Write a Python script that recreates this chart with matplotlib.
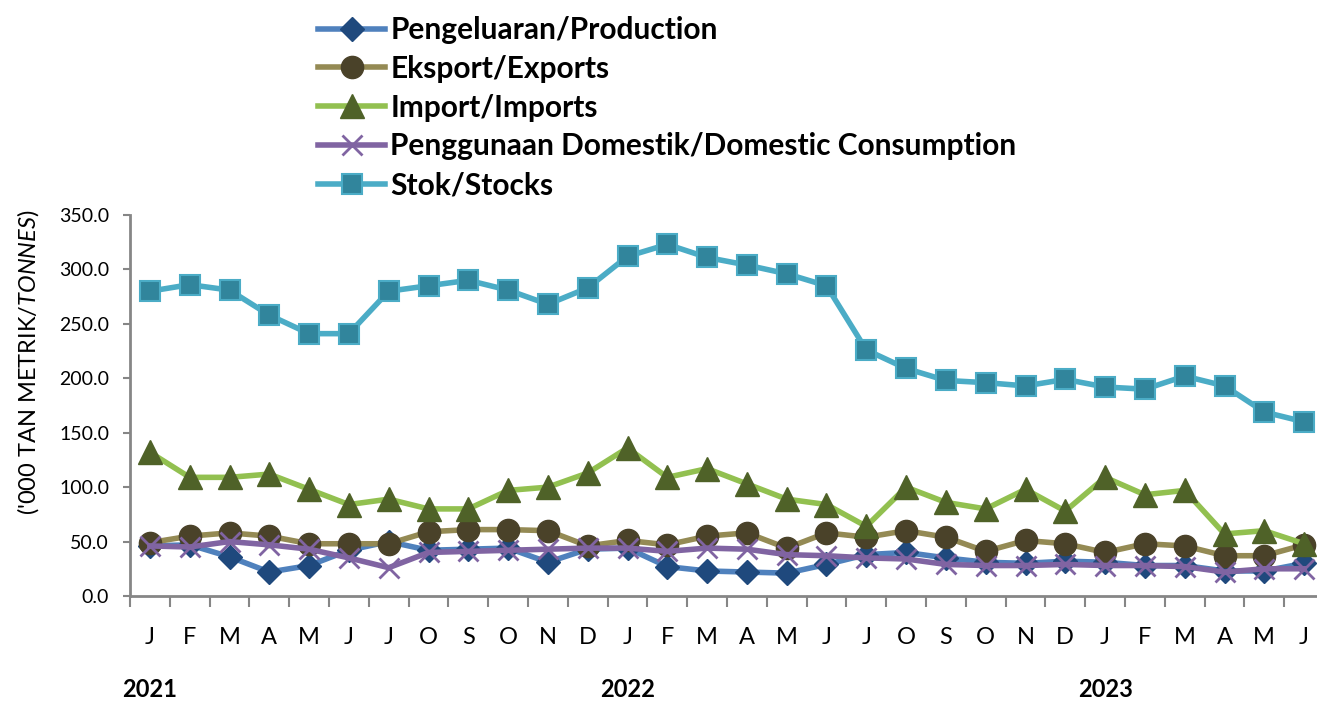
import matplotlib
matplotlib.use("Agg")
import matplotlib.pyplot as plt
import matplotlib.transforms as mtransforms
import numpy as np

plt.rcParams['font.family'] = ['Lato', 'DejaVu Sans']
plt.rcParams['mathtext.fontset'] = 'custom'
plt.rcParams['mathtext.rm'] = 'Lato'
plt.rcParams['mathtext.it'] = 'Lato:italic'

# Monthly data, Jan 2021 - Jun 2023 ('000 tonnes)
months = ["J", "F", "M", "A", "M", "J", "J", "O", "S", "O", "N", "D",
          "J", "F", "M", "A", "M", "J", "J", "O", "S", "O", "N", "D",
          "J", "F", "M", "A", "M", "J"]
years = ["2021", "2022", "2023"]

production = [46, 47, 36, 22, 28, 42, 50, 42, 43, 44, 31, 43,
              44, 27, 23, 22, 21, 29, 38, 40, 35, 31, 30, 32,
              31, 28, 28, 23, 23, 30]
exports = [49, 55, 58, 55, 48, 48, 48, 59, 61, 61, 60, 46,
           51, 47, 55, 58, 44, 58, 54, 60, 54, 41, 51, 48,
           40, 48, 46, 37, 37, 47]
imports = [132, 109, 109, 112, 98, 84, 89, 80, 80, 97, 100, 113,
           136, 109, 117, 103, 89, 84, 64, 100, 86, 80, 98, 78,
           109, 93, 97, 57, 60, 48]
domestic = [46, 45, 50, 47, 43, 35, 26, 40, 41, 42, 43, 44,
            44, 41, 44, 43, 38, 37, 35, 34, 29, 28, 28, 29,
            28, 28, 27, 22, 25, 25]
stocks = [280, 286, 281, 258, 241, 241, 280, 285, 290, 281, 268, 283,
          312, 323, 311, 304, 296, 285, 226, 209, 198, 196, 193, 199,
          192, 190, 202, 193, 169, 160]

labels = ["Pengeluaran/Production", "Eksport/Exports", "Import/Imports",
          "Penggunaan Domestik/Domestic Consumption", "Stok/Stocks"]

fig = plt.figure(figsize=(13.17, 7.02), dpi=100)
ax = fig.add_axes([130 / 1317, 106 / 702, 1194 / 1317, 381 / 702])

x = np.arange(len(months))
lw = 4.0
ax.plot(x, production, color="#4F81BD", lw=lw, marker="D", ms=12,
        mfc="#1F497D", mec="#1F497D", label=labels[0], zorder=3)
ax.plot(x, exports, color="#948A54", lw=lw, marker="o", ms=16,
        mfc="#4A4229", mec="#4A4229", label=labels[1], zorder=4)
ax.plot(x, imports, color="#92C050", lw=lw, marker="^", ms=17,
        mfc="#4F6228", mec="#4F6228", label=labels[2], zorder=5)
ax.plot(x, domestic, color="#8064A2", lw=lw, marker="x", ms=14, mew=2,
        mec="#8064A2", label=labels[3], zorder=6)
ax.plot(x, stocks, color="#4BACC6", lw=lw, marker="s", ms=15,
        mfc="#31859C", mec="#4BACC6", mew=1.5, label=labels[4], zorder=7)

ax.set_xlim(-0.5, len(months) - 0.5)
ax.set_ylim(0, 350)
ax.set_yticks(np.arange(0, 351, 50))
ax.set_yticklabels([f"{v:.1f}" for v in np.arange(0, 351, 50)], fontsize=14)
ax.set_xticks(x)
ax.set_xticklabels(months, fontsize=17)
ax.set_xticks(np.arange(-0.5, len(months), 1), minor=True)
ax.tick_params(axis="x", which="major", length=0, pad=22)
ax.tick_params(axis="x", which="minor", length=8, width=1.5, color="#868686")
ax.tick_params(axis="y", length=5, width=1.5, color="#868686", pad=10)

for s in ["top", "right"]:
    ax.spines[s].set_visible(False)
for s in ["left", "bottom"]:
    ax.spines[s].set_color("#868686")
    ax.spines[s].set_linewidth(2)

trans = mtransforms.blended_transform_factory(ax.transData, ax.transAxes)
for i, yr in enumerate(years):
    ax.text(i * 12, -0.245, yr, transform=trans, ha="center", va="center",
            fontsize=17, fontweight="bold")

fig.text(28 / 1317, 1 - 362 / 702, r"('000 TAN METRIK/$\it{TONNES}$)",
         rotation=90, ha="center", va="center", fontsize=17)

fig.legend(loc="upper left", bbox_to_anchor=(318 / 1317, 1 - 16 / 702),
           frameon=False, handlelength=2.25, handletextpad=0.17,
           labelspacing=0.36, borderpad=0, borderaxespad=0,
           prop={"weight": "bold", "size": 21.5})

fig.savefig("out.png", dpi=100)
